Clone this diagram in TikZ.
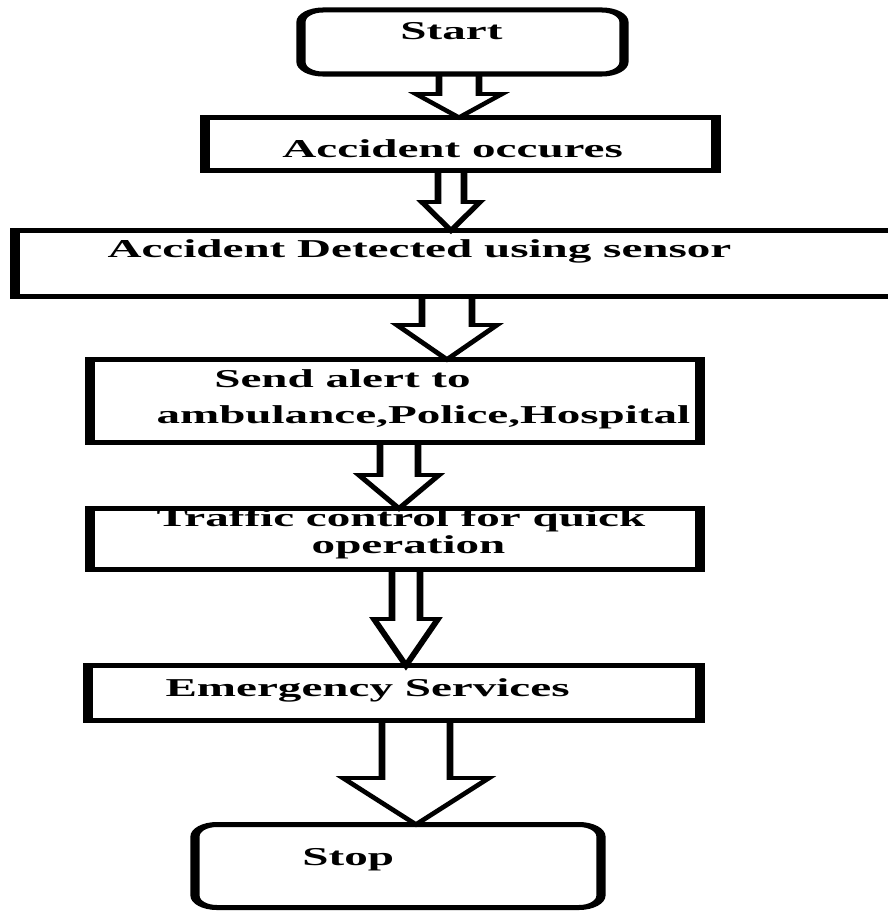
\documentclass[tikz,border=0pt]{standalone}
\usepackage{fontspec}
\setmainfont{Liberation Serif}
\usetikzlibrary{calc,fit}

\tikzset{
  box/.style={draw,line width=0.125cm,inner sep=0pt,outer sep=0pt},
  endbox/.style={box,rounded corners=0.3cm},
  lbl/.style={anchor=base west,inner sep=0pt,align=left,
    font=\fontsize{18.3}{24.9}\selectfont\bfseries},
  barr/.style={draw,line width=0.09cm,line join=miter},
}

\begin{document}
\begin{tikzpicture}[x=0.025cm,y=-0.025cm]
\useasboundingbox (0,0) rectangle (887,913);
% whole chart is stretched sideways, as in the scan
\begin{scope}[x=0.013661cm,transform canvas={xscale=1.83}]
\node[endbox,fit={(301,10) (624,74)}] (start) {};
\node[box,fit={(205,117.5) (716,170.5)}] (occ) {};
\node[box,fit={(15,230.5) (910,296.5)}] (det) {};
\node[box,fit={(90,359.5) (700,442.5)}] (send) {};
\node[box,fit={(90,508.5) (700,569.5)}] (traf) {};
\node[box,fit={(88,665.5) (700,720.5)}] (emer) {};
\node[endbox,fit={(195,824.5) (601,907.5)}] (stop) {};

\node[lbl] (tstart) at (400,40) {Start};
\node[lbl] (tocc) at (282,157) {Accident occures};
\node[lbl] (tdet) at (107,257) {Accident Detected using sensor};
% base of a two-line label sits on its last line
\node[lbl] (tsend) at (156,423) {\hspace*{0.79cm}Send alert to\\ambulance,Police,Hospital};
\node[lbl,font=\fontsize{18.3}{18.5}\selectfont\bfseries] (ttraf) at (156,553)
  {Traffic control for quick\\\hspace*{2.12cm}operation};
\node[lbl] (temer) at (165,696) {Emergency Services};
\node[lbl] (tstop) at (302,865) {Stop};

% block arrows: from/to/centre x/shaft half width/head half width/head top
\foreach \a/\b/\cx/\sw/\hw/\hy in {start/occ/459/20/43/94, occ/det/451/13/29/202,
    det/send/447/25/50/325, send/traf/399/19/40/475, traf/emer/406/14/32/619,
    emer/stop/416/34/73/778}{
  \coordinate (ac) at (\cx,\hy);
  \draw[barr] ($(\a.south -| ac)+(-\sw,0)$) -- ($(ac)+(-\sw,0)$) -- ($(ac)+(-\hw,0)$)
    -- (\b.north -| ac) -- ($(ac)+(\hw,0)$) -- ($(ac)+(\sw,0)$)
    -- ($(\a.south -| ac)+(\sw,0)$) -- cycle;
}
\end{scope}
\end{tikzpicture}
\end{document}
